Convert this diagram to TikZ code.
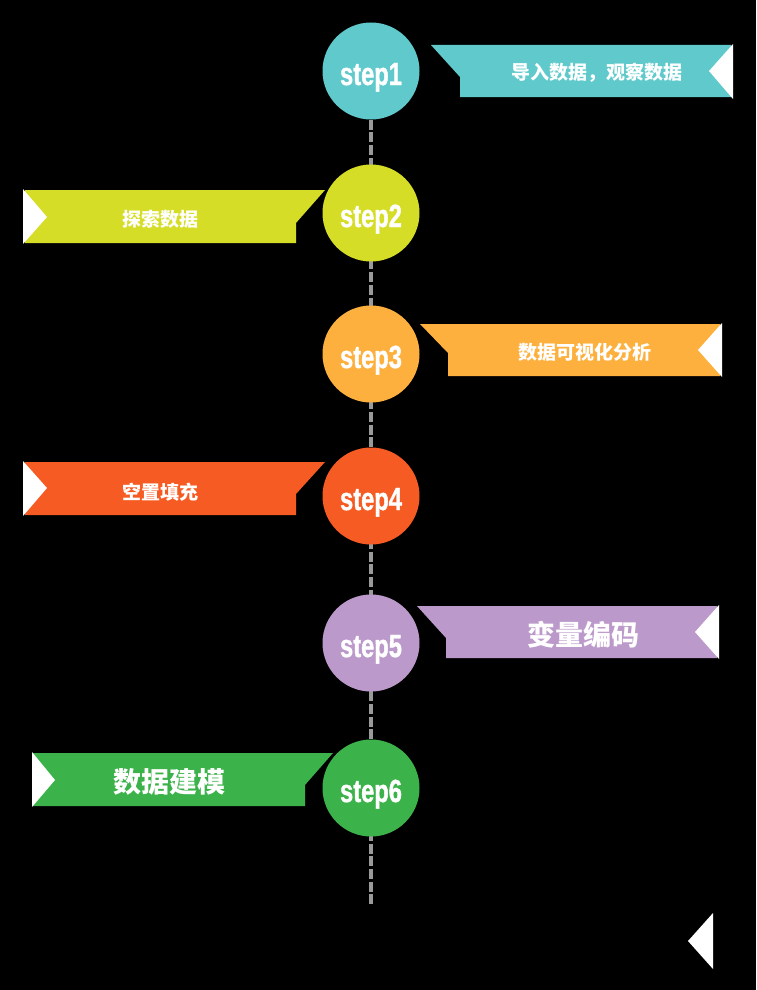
\documentclass[tikz,border=0pt]{standalone}
\usepackage{fontspec}
\usetikzlibrary{backgrounds}
\newfontfamily\cjk{Noto Sans CJK SC}
\newfontfamily\stepfont{Liberation Sans}[FakeStretch=0.74,FakeBold=1.2]
\definecolor{Teal}{HTML}{5FC9CB}
\definecolor{Lime}{HTML}{D6DD27}
\definecolor{Amber}{HTML}{FDB03D}
\definecolor{Flame}{HTML}{F55B23}
\definecolor{Lilac}{HTML}{BC99CB}
\definecolor{Grass}{HTML}{3BB24A}
\definecolor{Dash}{HTML}{9A9A9A}
\tikzset{
  stepnode/.style={circle,minimum size=97pt,inner sep=0pt,text=white,text height=28pt,text depth=0pt,font=\stepfont\bfseries\fontsize{32}{32}\selectfont},
  ribtext/.style={text=white,inner sep=0pt,font=\cjk\bfseries\fontsize{19}{19}\selectfont},
  bigtext/.style={ribtext,font=\cjk\bfseries\fontsize{28}{28}\selectfont},
  notch/.style={fill=white},
  dashline/.style={draw=Dash,line width=3.5pt,dash pattern=on 10pt off 2.7pt}
}
\begin{document}
\begin{tikzpicture}[x=1pt,y=-1pt]
  \useasboundingbox (0,0) rectangle (756,990);
  % timeline circles
  \node[stepnode,fill=Teal] (s1) at (371,71) {step1};
  \node[stepnode,fill=Lime] (s2) at (371,213) {step2};
  \node[stepnode,fill=Amber] (s3) at (371,354) {step3};
  \node[stepnode,fill=Flame] (s4) at (371,496) {step4};
  \node[stepnode,fill=Lilac] (s5) at (371,643) {step5};
  \node[stepnode,fill=Grass] (s6) at (371,788) {step6};
  \coordinate (lineend) at (371,907);
  % ribbons
  \fill[Teal] (431,45) -- (731,45) -- (731,97) -- (460,97) -- (460,77) -- cycle;
  \fill[notch] (709,71) -- (733,44) -- (733,99) -- cycle;
  \node[ribtext] (r1) at (597,73) {导入数据，观察数据};
  \fill[Lime] (25,190) -- (325,190) -- (296,223) -- (296,243) -- (25,243) -- cycle;
  \fill[notch] (47,217) -- (23,189) -- (23,244) -- cycle;
  \node[ribtext] (r2) at (160,219) {探索数据};
  \fill[Amber] (420,324) -- (720,324) -- (720,376) -- (448,376) -- (448,353) -- cycle;
  \fill[notch] (698,350) -- (722,323) -- (722,377) -- cycle;
  \node[ribtext] (r3) at (585,352) {数据可视化分析};
  \fill[Flame] (25,462) -- (325,462) -- (296,494) -- (296,515) -- (25,515) -- cycle;
  \fill[notch] (47,488) -- (23,461) -- (23,516) -- cycle;
  \node[ribtext] (r4) at (160,492) {空置填充};
  \fill[Lilac] (417,606) -- (717,606) -- (717,658) -- (446,658) -- (446,638) -- cycle;
  \fill[notch] (695,632) -- (719,605) -- (719,659) -- cycle;
  \node[bigtext] (r5) at (583,635) {变量编码};
  \fill[Grass] (33,753) -- (333,753) -- (305,785) -- (305,806) -- (33,806) -- cycle;
  \fill[notch] (55,780) -- (32,752) -- (32,807) -- cycle;
  \node[bigtext] (r6) at (169,782) {数据建模};
  \fill[notch] (688,941) -- (713,913) -- (713,969) -- cycle;
  \begin{scope}[on background layer]
    \fill[black] (0,0) rectangle (756,990);
    \draw[dashline] (s1) -- (lineend);
  \end{scope}
\end{tikzpicture}
\end{document}
